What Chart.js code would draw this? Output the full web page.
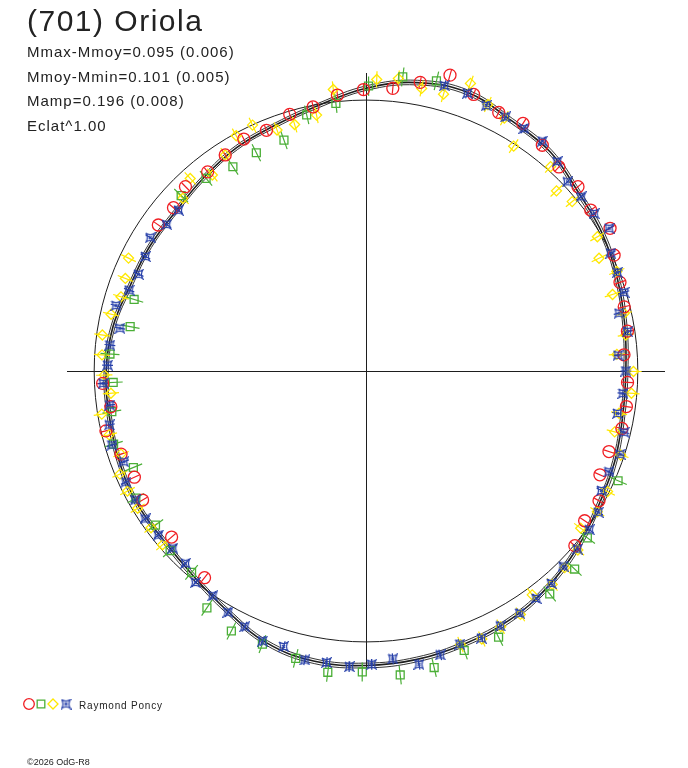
<!DOCTYPE html>
<html>
<head>
<meta charset="utf-8">
<script src="https://cdn.jsdelivr.net/npm/chart.js@4/dist/chart.umd.min.js"></script>
<style>
  body { margin: 0; background: #fff; }
  #wrap { position: relative; width: 688px; height: 768px; }
  .txt { position: absolute; left: 27px; white-space: nowrap; color: #222; font-family: "Liberation Sans", Arial, sans-serif; line-height: 1; }
  .stat { font-size: 15px; letter-spacing: 1px; }
</style>
</head>
<body>
<div id="wrap">
  <canvas id="chart" width="688" height="768"></canvas>
  <div class="txt" style="top:5.6px;font-size:30px;letter-spacing:1.5px">(701) Oriola</div>
  <div class="txt stat" style="top:44.3px">Mmax-Mmoy=0.095 (0.006)</div>
  <div class="txt stat" style="top:69.3px">Mmoy-Mmin=0.101 (0.005)</div>
  <div class="txt stat" style="top:93.3px">Mamp=0.196 (0.008)</div>
  <div class="txt stat" style="top:118.3px">Eclat^1.00</div>
  <div class="txt" style="left:79px;top:700.5px;font-size:10px;letter-spacing:0.8px">Raymond Poncy</div>
  <div class="txt" style="top:758.4px;font-size:9px">©2026 OdG-R8</div>
</div>
<script>
// rotational phase (degrees, clockwise from top) and relative brightness (mean = 1)
const redPhase = [359.5, 5.4, 10.6, 15.8, 21.2, 27.1, 32.3, 37.9, 43.3, 48.9, 54.3, 59.6, 64.9, 70.7, 76, 81.3, 86.4, 92.5, 97.8, 102.7, 108.4, 114, 119.2, 124.5, 130, 217.9, 229.4, 239.9, 245.3, 251.2, 257, 262, 267.3, 305.2, 310.4, 315.7, 321.6, 327, 332.3, 337.6, 343.5, 348.7, 354.1];
const redFlux = [1.039, 1.048, 1.084, 1.135, 1.095, 1.072, 1.081, 1.056, 1.035, 1.035, 1.018, 1.041, 1.008, 0.990, 0.979, 0.973, 0.951, 0.963, 0.967, 0.965, 0.942, 0.942, 0.982, 0.976, 1.003, 0.967, 0.942, 0.950, 0.938, 0.952, 0.982, 0.948, 0.970, 0.935, 0.930, 0.951, 0.938, 0.951, 0.967, 0.961, 0.988, 0.994, 1.024];

const greenPhase = [0.5, 7.1, 13.6, 113.6, 127.1, 133.6, 140.6, 153.6, 160.7, 167.1, 173.6, 180.7, 187.2, 193.7, 200.7, 207.3, 213.8, 220.8, 227.4, 233.7, 241, 247.4, 253.8, 260.9, 267.4, 273.8, 280.7, 287.2, 313.6, 320.4, 327, 333.4, 340.5, 347, 353.6];
const greenFlux = [1.052, 1.094, 1.102, 1.012, 1.021, 1.060, 1.065, 1.097, 1.093, 1.123, 1.129, 1.111, 1.121, 1.092, 1.078, 1.080, 1.052, 0.982, 0.979, 0.961, 0.968, 0.927, 0.967, 0.947, 0.931, 0.944, 0.883, 0.893, 0.939, 0.923, 0.899, 0.901, 0.904, 0.970, 0.994];

const yellowPhase = [2.1, 6.3, 11.1, 15.6, 19.9, 24.5, 28.6, 33.2, 42, 46.5, 50.5, 59.8, 64.1, 68.3, 72.7, 77.4, 82.1, 86.2, 90.1, 94.8, 99.5, 103.8, 108.3, 116.6, 121.4, 126.3, 130.3, 134.8, 139, 143.5, 147.7, 152.3, 156.7, 161, 229.4, 233.8, 238.9, 243.2, 247.2, 251.2, 256, 260.7, 265, 269.1, 273.5, 277.8, 282.6, 286.9, 291.1, 295.5, 313.4, 317.7, 322, 327, 331.2, 335.3, 339.8, 343.9, 349.1, 353.4];
const yellowFlux = [1.077, 1.086, 1.063, 1.061, 1.129, 1.081, 1.063, 0.992, 1.015, 0.966, 0.983, 0.985, 0.953, 0.993, 0.950, 0.973, 0.965, 0.925, 0.984, 0.980, 0.944, 0.942, 0.987, 0.994, 0.997, 0.980, 1.022, 1.030, 1.044, 1.028, 1.063, 1.066, 1.077, 1.068, 0.986, 0.980, 0.981, 0.983, 0.982, 0.952, 0.974, 0.985, 0.942, 0.963, 0.973, 0.979, 0.961, 0.942, 0.949, 0.968, 0.928, 0.961, 0.918, 0.951, 0.991, 0.999, 0.948, 0.947, 0.962, 1.046];

const bluePhase = [15.3, 20, 24.3, 28.7, 33, 37.4, 42.3, 46.7, 50.9, 55.3, 59.5, 64.2, 68.5, 73, 77.1, 81.4, 86.4, 90, 95, 99.6, 103.4, 108.2, 112.6, 117, 121.4, 125.5, 130.2, 134.8, 139, 143.3, 147.7, 152.3, 156.7, 161.1, 165.4, 169.8, 174.7, 178.9, 183.2, 187.7, 191.9, 196.6, 200.9, 205.3, 209.7, 214.2, 218.8, 223.1, 227.4, 231.6, 236.1, 240.7, 245.1, 249.4, 253.7, 258.1, 262.4, 267.3, 271.3, 275.8, 279.9, 284.7, 288.9, 293.1, 297.5, 301.8, 306.4, 310.7];
const blueFlux = [1.092, 1.091, 1.075, 1.069, 1.067, 1.068, 1.045, 1.018, 1.020, 1.021, 1.038, 1.000, 0.994, 0.993, 0.955, 0.973, 0.929, 0.956, 0.949, 0.938, 0.976, 0.984, 0.968, 0.972, 1.001, 1.009, 1.018, 1.022, 1.039, 1.047, 1.058, 1.063, 1.074, 1.066, 1.083, 1.100, 1.067, 1.083, 1.093, 1.086, 1.090, 1.061, 1.067, 1.044, 1.025, 1.003, 1.002, 0.972, 0.966, 0.975, 0.979, 0.973, 0.974, 0.952, 0.974, 0.965, 0.951, 0.968, 0.951, 0.947, 0.919, 0.951, 0.921, 0.910, 0.915, 0.934, 0.911, 0.910];

// fitted light curve, sampled every 10 degrees
const fitPhase = [0, 10, 20, 30, 40, 50, 60, 70, 80, 90, 100, 110, 120, 130, 140, 150, 160, 170, 180, 190, 200, 210, 220, 230, 240, 250, 260, 270, 280, 290, 300, 310, 320, 330, 340, 350];
const fitFlux = [1.044, 1.081, 1.094, 1.068, 1.055, 1.022, 1.006, 0.985, 0.967, 0.956, 0.959, 0.974, 0.989, 1.015, 1.040, 1.060, 1.070, 1.081, 1.087, 1.088, 1.068, 1.022, 0.988, 0.972, 0.974, 0.967, 0.959, 0.956, 0.945, 0.923, 0.919, 0.915, 0.930, 0.952, 0.967, 0.996];
const fitSigma = 0.008;

// error half-widths per observer session
const redErr = 0.02, greenErr = 0.035, yellowErr = 0.03, blueErr = 0.02;

const meanLevel = 1;
const axisSpan = 1.1;

const RED = 'rgb(240,30,35)', GREEN = 'rgb(75,175,55)', YELLOW = 'rgb(255,232,0)', BLUE = 'rgb(40,65,170)', INK = '#1e1e1e';

function toXY(deg, r) {
    const a = deg * Math.PI / 180;
    return { x: r * Math.sin(a), y: r * Math.cos(a) };
}

function points(phases, fluxes) {
    return phases.map((p, i) => toXY(p, fluxes[i]));
}

function errorSegments(phases, fluxes, err) {
    const pts = [];
    phases.forEach((p, i) => {
        pts.push(toXY(p, fluxes[i] - err), toXY(p, fluxes[i] + err), { x: null, y: null });
    });
    return pts;
}

// closed loop: one extra sample on each side so the spline is smooth at phase 0
function loopPoints(phases, fluxes, k) {
    const n = phases.length;
    const pts = [];
    for (let i = -1; i <= n + 1; i++) {
        const j = (i + n) % n;
        pts.push(toXY(phases[j], fluxes[j] * k));
    }
    return pts;
}

function makeStar(color) {
    const c = document.createElement('canvas');
    c.width = 11; c.height = 11;
    const g = c.getContext('2d');
    g.strokeStyle = color; g.lineWidth = 1.2;
    const m = 5.5, R = 4.5, k = 1.4;
    g.beginPath();
    g.moveTo(m - R, m - R);
    g.quadraticCurveTo(m, m - k, m + R, m - R);
    g.quadraticCurveTo(m + k, m, m + R, m + R);
    g.quadraticCurveTo(m, m + k, m - R, m + R);
    g.quadraticCurveTo(m - k, m, m - R, m - R);
    g.stroke();
    g.beginPath();
    g.moveTo(m - 1.5, m - 1.5); g.lineTo(m + 1.5, m + 1.5);
    g.moveTo(m + 1.5, m - 1.5); g.lineTo(m - 1.5, m + 1.5);
    g.stroke();
    return c;
}
const blueStar = makeStar(BLUE);

function markerSet(data, color, style, radius) {
    return {
        data: data, showLine: false, clip: false,
        pointStyle: style, pointRadius: radius, pointHoverRadius: radius,
        borderColor: color, backgroundColor: 'rgba(0,0,0,0)', pointBorderWidth: 1.3
    };
}

function errorSet(data, color) {
    return {
        data: data, showLine: true, spanGaps: false, clip: false,
        pointRadius: 0, borderColor: color, borderWidth: 1.2
    };
}

function fitSet(k, width) {
    const data = loopPoints(fitPhase, fitFlux, k);
    const last = data.length - 1;
    return {
        data: data, showLine: true, clip: false, tension: 0.4,
        pointRadius: 0, borderColor: INK, borderWidth: width,
        segment: {
            borderColor: c => (c.p0DataIndex === 0 || c.p1DataIndex === last) ? 'rgba(0,0,0,0)' : undefined
        }
    };
}

const ringPlugin = {
    id: 'ring',
    beforeDatasetsDraw(chart) {
        const { ctx, scales: { x, y } } = chart;
        const cx = x.getPixelForValue(0), cy = y.getPixelForValue(0);
        const rx = x.getPixelForValue(meanLevel) - cx;
        const ry = cy - y.getPixelForValue(meanLevel);
        ctx.save();
        ctx.strokeStyle = INK;
        ctx.lineWidth = 1;
        ctx.beginPath();
        ctx.ellipse(cx, cy, rx, ry, 0, 0, Math.PI * 2);
        ctx.stroke();
        ctx.restore();
    }
};

// little key in the bottom-left corner, one symbol per session
const keyPlugin = {
    id: 'key',
    afterDraw(chart) {
        const ctx = chart.ctx;
        const keys = [
            { color: RED, style: 'circle', r: 5.3, x: 29 },
            { color: GREEN, style: 'rect', r: 5.4, x: 41 },
            { color: YELLOW, style: 'rectRot', r: 5, x: 53 },
            { color: BLUE, style: blueStar, r: 5, x: 66 }
        ];
        ctx.save();
        keys.forEach(k => {
            ctx.strokeStyle = k.color;
            ctx.fillStyle = 'rgba(0,0,0,0)';
            ctx.lineWidth = 1.3;
            Chart.helpers.drawPoint(ctx, { pointStyle: k.style, radius: k.r, borderWidth: 1.3, rotation: 0 }, k.x, 704);
        });
        ctx.restore();
    }
};

const zeroGrid = {
    drawTicks: false,
    lineWidth: 1,
    color: c => (c.tick && Math.abs(c.tick.value) < 1e-9) ? INK : 'rgba(0,0,0,0)'
};

new Chart(document.getElementById('chart'), {
    type: 'scatter',
    data: {
        datasets: [
            markerSet(points(bluePhase, blueFlux), BLUE, blueStar, 5),
            markerSet(points(redPhase, redFlux), RED, 'circle', 6),
            markerSet(points(greenPhase, greenFlux), GREEN, 'rect', 5.6),
            markerSet(points(yellowPhase, yellowFlux), YELLOW, 'rectRot', 5),
            errorSet(errorSegments(bluePhase, blueFlux, blueErr), BLUE),
            errorSet(errorSegments(redPhase, redFlux, redErr), RED),
            errorSet(errorSegments(greenPhase, greenFlux, greenErr), GREEN),
            errorSet(errorSegments(yellowPhase, yellowFlux, yellowErr), YELLOW),
            fitSet(1, 1.6),
            fitSet(1 + fitSigma, 0.9),
            fitSet(1 - fitSigma, 0.9)
        ]
    },
    options: {
        responsive: false,
        animation: false,
        events: [],
        layout: { padding: { left: 67, right: 23, top: 73, bottom: 99 } },
        plugins: { legend: { display: false }, tooltip: { enabled: false } },
        scales: {
            x: {
                type: 'linear', min: -axisSpan, max: axisSpan,
                ticks: { display: false, stepSize: axisSpan },
                grid: zeroGrid, border: { display: false }
            },
            y: {
                type: 'linear', min: -axisSpan, max: axisSpan,
                ticks: { display: false, stepSize: axisSpan },
                grid: zeroGrid, border: { display: false }
            }
        }
    },
    plugins: [ringPlugin, keyPlugin]
});
</script>
</body>
</html>
